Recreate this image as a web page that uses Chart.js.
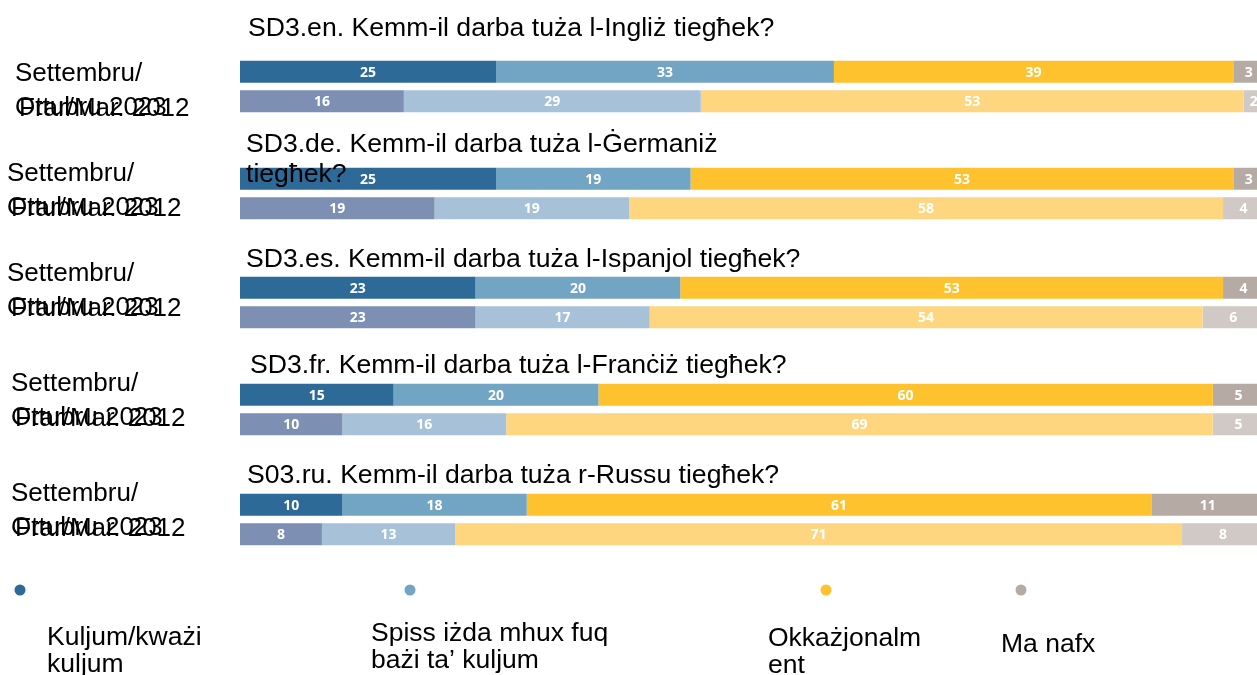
<!DOCTYPE html>
<html><head><meta charset="utf-8">
<script src="https://cdn.jsdelivr.net/npm/chart.js@4.4.1/dist/chart.umd.min.js"></script>
<style>
html,body{margin:0;padding:0;background:#fff;overflow:hidden;width:1257px;height:675px;}
#wrap{position:relative;width:1257px;height:675px;overflow:hidden;}
#wrap canvas{position:absolute;left:0;top:0;}
</style></head><body><div id="wrap"></div>
<script>
// ---- data ----
const periods = ['Settembru/ Ottubru 2023', 'Frar/Mar. 2012'];
const period2023Lines = ['Settembru/', 'Ottubru 2023'];
const period2012Label = 'Frar/Mar. 2012';
const questions = [
  ['SD3.en. Kemm-il darba tuża l-Ingliż tiegħek?'],
  ['SD3.de. Kemm-il darba tuża l-Ġermaniż', 'tiegħek?'],
  ['SD3.es. Kemm-il darba tuża l-Ispanjol tiegħek?'],
  ['SD3.fr. Kemm-il darba tuża l-Franċiż tiegħek?'],
  ['S03.ru. Kemm-il darba tuża r-Russu tiegħek?']
];
const categories = ['Kuljum/kważi kuljum', 'Spiss iżda mhux fuq bażi ta’ kuljum', 'Okkażjonalment', 'Ma nafx'];
const legendLines = [['Kuljum/kważi', 'kuljum'], ['Spiss iżda mhux fuq', 'bażi ta’ kuljum'], ['Okkażjonalm', 'ent'], ['Ma nafx']];
const daily2023      = [25, 25, 23, 15, 10];
const often2023      = [33, 19, 20, 20, 18];
const occasional2023 = [39, 53, 53, 60, 61];
const dontKnow2023   = [3, 3, 4, 5, 11];
const daily2012      = [16, 19, 23, 10, 8];
const often2012      = [29, 19, 17, 16, 13];
const occasional2012 = [53, 58, 54, 69, 71];
const dontKnow2012   = [2, 4, 6, 5, 8];

// ---- styles / layout ----
const colors2023 = ['#2e6a97', '#72a4c4', '#fec22e', '#b6aba4'];
const colors2012 = ['#7d90b3', '#a7c2d8', '#fdd67f', '#d0c9c5'];
const W = 1270, H = 675;
const areaTops = [57, 164, 273, 380, 490];
const areaH = 59;
const titleX = [248, 246, 246, 250, 247];
const titleBase = [36, 151.7, 266.7, 372.7, 483];
const titleLineGap = 30;
const labelX = [15, 7, 7, 11, 11];
const labelBase = [81, 181, 281, 391, 501];
const legendDotX = [20, 410, 826, 1021];
const legendDotY = 590;
const legendTextX = [47, 371, 768, 1001];
const legendTextBase = [645, 641, 646, 652];
const legendLineGap = 27;
const FONT = '"Liberation Sans", Arial, sans-serif';

const series2023 = [daily2023, often2023, occasional2023, dontKnow2023];
const series2012 = [daily2012, often2012, occasional2012, dontKnow2012];

function makePlugin(g) {
  return {
    id: 'txt' + g,
    afterDatasetsDraw(chart) {
      const ctx = chart.ctx;
      ctx.save();
      // value labels
      ctx.fillStyle = '#ffffff';
      ctx.font = 'bold 14px "Open Sans", "DejaVu Sans", sans-serif';
      ctx.textAlign = 'center';
      ctx.textBaseline = 'middle';
      chart.data.datasets.forEach((ds, i) => {
        const meta = chart.getDatasetMeta(i);
        meta.data.forEach((bar, j) => {
          const p = bar.getProps(['x', 'y', 'base'], true);
          ctx.fillText(String(ds.data[j]), (p.x + p.base) / 2, p.y + 1);
        });
      });
      // title
      ctx.fillStyle = '#000000';
      ctx.font = '26.6px ' + FONT;
      ctx.textAlign = 'left';
      ctx.textBaseline = 'alphabetic';
      questions[g].forEach((line, k) => ctx.fillText(line, titleX[g], titleBase[g] + k * titleLineGap));
      // period labels
      ctx.font = '26px ' + FONT;
      ctx.fillText(period2023Lines[0], labelX[g], labelBase[g]);
      ctx.fillText(period2023Lines[1], labelX[g], labelBase[g] + 34);
      ctx.fillText(period2012Label, labelX[g] + 4, labelBase[g] + 35);
      // legend
      if (g === questions.length - 1) {
        ctx.font = '26.5px ' + FONT;
        categories.forEach((c, k) => {
          ctx.fillStyle = colors2023[k];
          ctx.beginPath();
          ctx.arc(legendDotX[k], legendDotY, 5.5, 0, Math.PI * 2);
          ctx.fill();
          ctx.fillStyle = '#000000';
          legendLines[k].forEach((ln, m) => ctx.fillText(ln, legendTextX[k], legendTextBase[k] + m * legendLineGap));
        });
      }
      ctx.restore();
    }
  };
}

const wrap = document.getElementById('wrap');
questions.forEach((q, g) => {
  const cv = document.createElement('canvas');
  cv.width = W; cv.height = H;
  cv.style.width = W + 'px'; cv.style.height = H + 'px';
  wrap.appendChild(cv);
  new Chart(cv.getContext('2d'), {
    type: 'bar',
    data: {
      labels: periods,
      datasets: categories.map((c, k) => ({
        label: c,
        data: [series2023[k][g], series2012[k][g]],
        backgroundColor: [colors2023[k], colors2012[k]],
        borderWidth: 0,
        categoryPercentage: 1,
        barPercentage: 22 / 29.5
      }))
    },
    options: {
      indexAxis: 'y',
      responsive: false,
      animation: false,
      devicePixelRatio: 1,
      layout: { padding: { left: 240, right: W - 1264, top: areaTops[g], bottom: H - areaTops[g] - areaH } },
      scales: {
        x: { stacked: true, min: 0, max: 100, display: false },
        y: { stacked: true, display: false }
      },
      plugins: { legend: { display: false }, tooltip: { enabled: false }, title: { display: false } }
    },
    plugins: [makePlugin(g)]
  });
});
</script></body></html>
